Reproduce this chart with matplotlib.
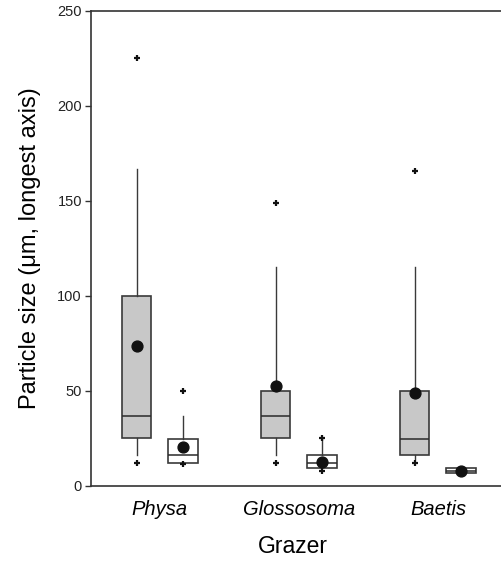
#Box plots of particle size for each grazer
import matplotlib
matplotlib.use("Agg")
import matplotlib.pyplot as plt
import numpy as np

plt.rcParams['font.family'] = ['Liberation Sans', 'DejaVu Sans']

#data
grazers = ['Physa', 'Glossosoma', 'Baetis']

#gray boxes
gray_q1 = [25, 25, 16.5]
gray_med = [37, 37, 24.5]
gray_q3 = [100, 50, 50]
gray_whislo = [16.5, 16.5, 14]
gray_whishi = [167, 115, 115]
gray_mean = [73.5, 52.5, 49]
gray_fliers = [[12, 225], [12, 149], [12, 166]]

#white boxes
white_q1 = [12, 9.5, 6.7]
white_med = [16.3, 12.3, 8]
white_q3 = [24.8, 16.4, 9.3]
white_whislo = [12, 9.5, 6.7]
white_whishi = [37, 25, 9.3]
white_mean = [20.5, 12.8, 8]
white_fliers = [[11.5, 50], [8, 25], []]

yticks = [0, 50, 100, 150, 200, 250]


def make_stats(q1, med, q3, lo, hi, mean, fliers):
    stats = []
    for k in range(len(q1)):
        stats.append(dict(q1=q1[k], med=med[k], q3=q3[k], whislo=lo[k],
                          whishi=hi[k], mean=mean[k], fliers=fliers[k]))
    return stats


fig = plt.figure(figsize=(5.01, 5.61), dpi=100)
# axes runs past the right edge of the figure, so the right spine is cut off
ax = fig.add_axes([0.1816, 0.1337, 0.8563, 0.8467])

pos = np.arange(1, len(grazers) + 1)
offset = 0.166
width = 0.21

common = dict(showmeans=True, showcaps=False, patch_artist=True, widths=width,
              whiskerprops=dict(color='#3a3a3a', linewidth=1.0),
              medianprops=dict(color='#2a2a2a', linewidth=1.1),
              meanprops=dict(marker='o', markerfacecolor='#111111', markeredgecolor='#111111',
                             markersize=7.8),
              flierprops=dict(marker='+', markeredgecolor='#111111', markersize=5,
                              markeredgewidth=1.6))

b1 = ax.bxp(make_stats(gray_q1, gray_med, gray_q3, gray_whislo, gray_whishi, gray_mean, gray_fliers),
            positions=pos - offset, **common)
b2 = ax.bxp(make_stats(white_q1, white_med, white_q3, white_whislo, white_whishi, white_mean, white_fliers),
            positions=pos + offset, **common)

for box in b1['boxes']:
    box.set_facecolor('#c8c8c8')
    box.set_edgecolor('#3a3a3a')
    box.set_linewidth(1.2)
for box in b2['boxes']:
    box.set_facecolor('white')
    box.set_edgecolor('#3a3a3a')
    box.set_linewidth(1.2)

ax.set_xlim(0.504, 3.59)
ax.set_ylim(0, 250)
ax.set_yticks(yticks)
ax.set_xticks(pos)
ax.set_xticklabels(grazers, fontstyle='italic', fontsize=14.5)
ax.tick_params(axis='x', length=0, pad=10)
ax.tick_params(axis='y', length=4.5, width=1, pad=2, labelsize=10.5, colors='#333333', labelcolor='#222222')

for s in ax.spines.values():
    s.set_color('#333333')
    s.set_linewidth(1.2)

ax.set_xlabel('Grazer', fontsize=16.5)
ax.xaxis.set_label_coords(0.4706, -0.103)
ax.set_ylabel('Particle size (\u03bcm, longest axis)', fontsize=17, labelpad=12)

fig.savefig('out.png', dpi=100)
